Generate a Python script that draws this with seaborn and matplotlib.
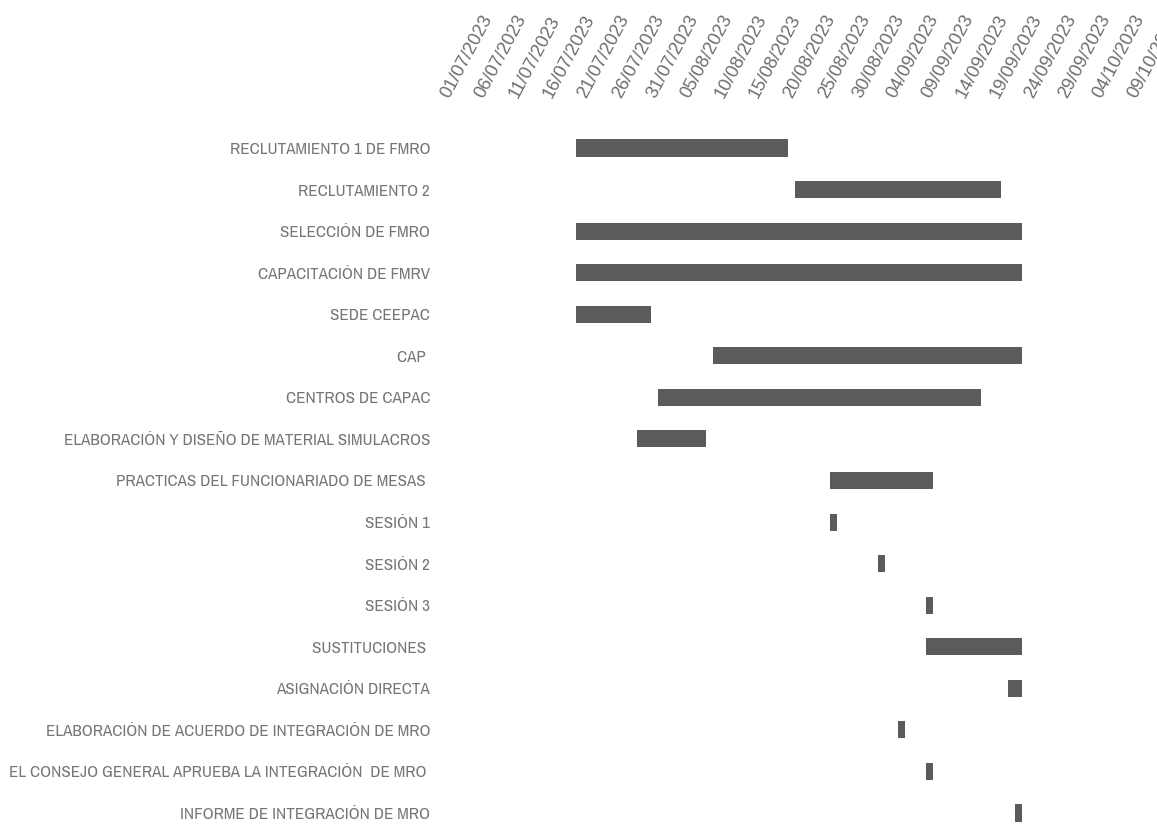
import matplotlib
matplotlib.use("Agg")
import matplotlib.pyplot as plt
import matplotlib.dates as mdates
from matplotlib import font_manager as fm
from matplotlib.textpath import TextPath
import seaborn as sns
import pandas as pd

# ---------------- data ----------------
tasks = [
    "RECLUTAMIENTO 1 DE FMRO",
    "RECLUTAMIENTO 2",
    "SELECCIÓN DE FMRO",
    "CAPACITACIÓN DE FMRV",
    "SEDE CEEPAC",
    "CAP ",
    "CENTROS DE CAPAC",
    "ELABORACIÓN Y DISEÑO DE MATERIAL SIMULACROS",
    "PRACTICAS DEL FUNCIONARIADO DE MESAS ",
    "SESIÓN 1",
    "SESIÓN 2",
    "SESIÓN 3",
    "SUSTITUCIONES ",
    "ASIGNACIÓN DIRECTA",
    "ELABORACIÓN DE ACUERDO DE INTEGRACIÓN DE MRO",
    "EL CONSEJO GENERAL APRUEBA LA INTEGRACIÓN  DE MRO ",
    "INFORME DE INTEGRACIÓN DE MRO",
]
start_dates = [
    "20/07/2023", "21/08/2023", "20/07/2023", "20/07/2023", "20/07/2023",
    "09/08/2023", "01/08/2023", "29/07/2023", "26/08/2023", "26/08/2023",
    "02/09/2023", "09/09/2023", "09/09/2023", "21/09/2023", "05/09/2023",
    "09/09/2023", "22/09/2023",
]
durations_days = [31, 30, 65, 65, 11, 45, 47, 10, 15, 1, 1, 1, 14, 2, 1, 1, 1]

tick_first = "01/07/2023"
tick_last = "09/10/2023"
tick_step_days = 5

# ---------------- fonts ----------------
sns.set_style("white")
plt.rcParams["font.family"] = ["Liberation Sans", "DejaVu Sans"]


def pick_narrow_font():
    best = None
    for f in fm.fontManager.ttflist:
        name = f.name.lower()
        fn = f.fname.lower()
        if "serif" in name.replace("sans", "") or "mono" in name:
            continue
        if str(f.style) != "normal":
            continue
        if f.weight not in (400, "normal", "regular", "book"):
            continue
        st = str(f.stretch).lower()
        if "narrow" in name or "narrow" in fn:
            score = 0
        elif ("condensed" in name or "condensed" in fn or "condensed" in st) and "semi" not in st and "semi" not in fn:
            score = 1
        elif "semi" in st or "semicondensed" in fn:
            score = 2
        else:
            continue
        if best is None or score < best[0]:
            best = (score, f.fname)
    if best is None:
        return fm.FontProperties(family=["Liberation Sans", "DejaVu Sans"])
    return fm.FontProperties(fname=best[1])


def size_for_width(text, prop, target_px):
    w = TextPath((0, 0), text, size=10, prop=prop).get_extents().width  # points at 10pt
    return 10 * (target_px * 72 / 100) / w


ylab_fp = pick_narrow_font()
ylab_size = size_for_width("RECLUTAMIENTO 1 DE FMRO", ylab_fp, 197)
ylab_fp.set_size(ylab_size)

xlab_fp = fm.FontProperties(family=["Liberation Sans", "DejaVu Sans"])
xlab_size = size_for_width("01/07/2023", xlab_fp, 90)
xlab_fp.set_size(xlab_size)

# ---------------- data frame ----------------
df = pd.DataFrame({
    "tarea": tasks,
    "inicio": pd.to_datetime(start_dates, format="%d/%m/%Y"),
    "dias": durations_days,
})
df["inicio_num"] = mdates.date2num(df["inicio"])

# ---------------- figure ----------------
W, H = 1157, 825
fig = plt.figure(figsize=(W / 100, H / 100), dpi=100)
ax_l, ax_r, ax_t, ax_b = 445, 1157, 127.2, 825
ax = fig.add_axes([ax_l / W, 1 - ax_b / H, (ax_r - ax_l) / W, (ax_b - ax_t) / H])

sns.barplot(
    data=df, x="dias", y="tarea", order=tasks, orient="y",
    left=df["inicio_num"].values, color="#5b5b5b", saturation=1,
    width=0.41, errorbar=None, ax=ax, linewidth=0,
)

t0 = pd.to_datetime(tick_first, format="%d/%m/%Y")
t1 = pd.to_datetime(tick_last, format="%d/%m/%Y")
ticks = pd.date_range(t0, t1, freq=f"{tick_step_days}D")
x0 = mdates.date2num(t0)
px_per_day = 6.87
ax.set_xlim(x0, x0 + (ax_r - ax_l) / px_per_day)
row_px = (813 - 148) / 16
ax.set_ylim(16 + (825 - 813) / row_px, -0.5)

ax.set_xticks(mdates.date2num(ticks))
ax.set_xticklabels([t.strftime("%d/%m/%Y") for t in ticks])
ax.xaxis.tick_top()
ax.tick_params(axis="x", top=True, bottom=False, labeltop=True, labelbottom=False,
               length=0, pad=22.0, labelcolor="#6e6e6e")
for lab in ax.get_xticklabels():
    lab.set_fontproperties(xlab_fp)
    lab.set_rotation(62)
    lab.set_rotation_mode("anchor")
    lab.set_ha("left")
    lab.set_va("center")

ax.tick_params(axis="y", length=0, pad=10.8, labelcolor="#767676")
for lab in ax.get_yticklabels():
    lab.set_fontproperties(ylab_fp)

ax.set_xlabel("")
ax.set_ylabel("")
for s in ax.spines.values():
    s.set_visible(False)
ax.grid(False)

fig.savefig("out.png", dpi=100)
